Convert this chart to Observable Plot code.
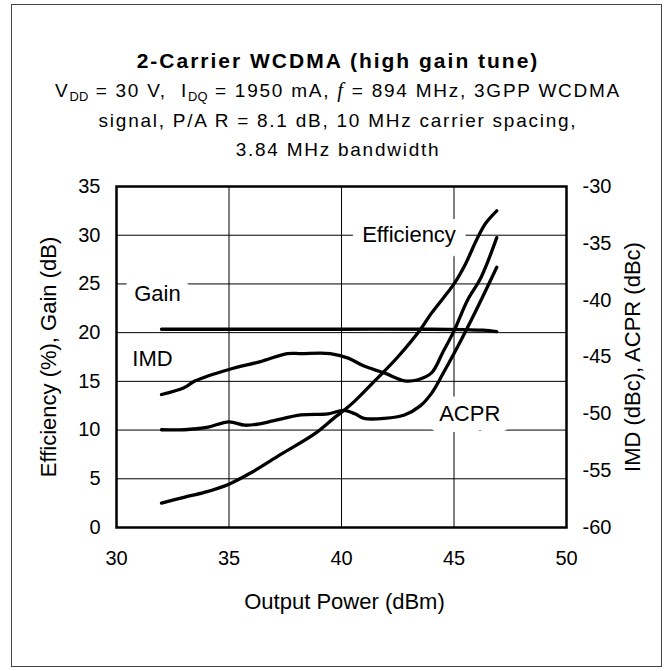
<!DOCTYPE html>
<html><head><meta charset="utf-8">
<script src="https://cdn.jsdelivr.net/npm/d3@7"></script>
<script src="https://cdn.jsdelivr.net/npm/@observablehq/plot@0.6"></script>
<style>
body{margin:0;background:#fff;font-family:"Liberation Sans",Arial,sans-serif;}
#page{position:relative;width:665px;height:671px;overflow:hidden;background:#fff;}
#border{position:absolute;left:10.5px;top:4px;width:649px;height:661px;border:1.4px solid #444;}
.t{position:absolute;left:0;width:676px;text-align:center;color:#000;white-space:nowrap;}
#title{top:47px;font-size:21px;line-height:28px;font-weight:bold;letter-spacing:2px;}
.sub{font-size:19px;line-height:29.5px;letter-spacing:1.75px;}
sub{font-size:0.68em;vertical-align:-0.3em;line-height:0;letter-spacing:0.3px;}
i.f{font-family:"Liberation Serif","DejaVu Serif",serif;font-size:1.1em;}
#chart{position:absolute;left:0;top:170px;}
</style></head>
<body><div id="page">
<div id="border"></div>
<div class="t" id="title">2-Carrier WCDMA (high gain tune)</div>
<div class="t sub" style="top:76px">V<sub>DD</sub> = 30 V,&nbsp; I<sub>DQ</sub> = 1950 mA, <i class="f">f</i> = 894 MHz, 3GPP WCDMA</div>
<div class="t sub" style="top:105.5px">signal, P/A R = 8.1 dB, 10 MHz carrier spacing,</div>
<div class="t sub" style="top:135px">3.84 MHz bandwidth</div>
<div id="chart"></div>
</div>
<script>
// ---- data ----
const effX  = [32, 33, 33.9, 35, 36, 37.3, 38.8, 39.7, 40.1, 40.6, 41.5, 42.5, 43.5, 44, 45, 45.5, 46, 46.4, 46.9];
const effY  = [2.5, 3.1, 3.6, 4.45, 5.65, 7.5, 9.6, 11.3, 12.0, 13.0, 15.1, 17.5, 20.3, 22.0, 25.0, 27.0, 29.5, 31.2, 32.5];

const gainX = [32, 36, 40, 44, 45.5, 46.3, 46.9];
const gainY = [20.35, 20.35, 20.35, 20.35, 20.3, 20.25, 20.1];

const imdX  = [32, 33, 33.5, 35, 36.4, 37.6, 38.2, 39.5, 40.3, 41, 41.9, 42.8, 43.4, 44, 44.5, 45, 45.6, 46.2, 46.9];
const imdY  = [-48.3, -47.7, -47.1, -46.1, -45.4, -44.7, -44.7, -44.7, -45.1, -45.8, -46.4, -47.1, -47.0, -46.4, -44.6, -42.7, -40.0, -38.0, -34.5];

const acprX = [32, 33, 34, 35, 35.7, 36.3, 37, 38.2, 39.4, 40.1, 40.6, 41, 41.9, 42.8, 43.5, 44, 44.5, 45, 45.5, 46.2, 46.9];
const acprY = [-51.4, -51.4, -51.2, -50.7, -51.0, -50.9, -50.6, -50.1, -50.0, -49.7, -50.0, -50.4, -50.4, -50.1, -49.3, -48.2, -46.5, -44.7, -42.8, -40.0, -37.1];

const xTicks = [30, 35, 40, 45, 50];
const yTicks = [0, 5, 10, 15, 20, 25, 30, 35];
const y2Ticks = [-60, -55, -50, -45, -40, -35, -30];
const xGrid = [35, 40, 45];
const yGrid = [5, 10, 15, 20, 25, 30];

const xTitle = "Output Power (dBm)";
const yTitle = "Efficiency (%), Gain (dB)";
const y2Title = "IMD (dBc), ACPR (dBc)";

// ---- right axis (dBc) mapped onto left axis domain ----
const y2Min = -60, y2Max = -30, yMax = 35;
const toLeft = v => (v - y2Min) * yMax / (y2Max - y2Min);
const fromLeft = v => Math.round(v * (y2Max - y2Min) / yMax + y2Min);

const series = (xs, ys) => xs.map((x, i) => ({x, y: ys[i]}));
const eff = series(effX, effY);
const gain = series(gainX, gainY);
const imd = series(imdX, imdY.map(toLeft));
const acpr = series(acprX, acprY.map(toLeft));

const lineOpts = {x: "x", y: "y", stroke: "#000", strokeWidth: 3.3, curve: "catmull-rom", strokeLinecap: "round", strokeLinejoin: "round"};
const labelOpts = {fontSize: 22, fill: "#000", stroke: "#fff", strokeWidth: 22, strokeLinejoin: "round", paintOrder: "stroke"};
const gridOpts = {stroke: "#000", strokeOpacity: 1, strokeWidth: 1};
const titleOpts = {fontSize: 22, fill: "#000", textAnchor: "middle", lineAnchor: "middle"};

const chart = Plot.plot({
  width: 665, height: 500,
  marginLeft: 116, marginRight: 99, marginTop: 16, marginBottom: 143,
  x: {domain: [30, 50]},
  y: {domain: [0, 35]},
  style: {fontFamily: '"Liberation Sans", Arial, sans-serif', fontSize: "20px", color: "#000", background: "transparent", overflow: "visible"},
  marks: [
    Plot.gridX(xGrid, gridOpts),
    Plot.gridY(yGrid, gridOpts),
    Plot.text(["Gain"], {x: [31.82], y: [24.0], ...labelOpts}),
    Plot.text(["IMD"], {x: [31.6], y: [17.25], ...labelOpts}),
    Plot.text(["Efficiency"], {x: [43.0], y: [30.07], ...labelOpts}),
    Plot.text(["ACPR"], {x: [45.7], y: [11.67], ...labelOpts}),
    Plot.line(gain, lineOpts),
    Plot.line(imd, lineOpts),
    Plot.line(acpr, lineOpts),
    Plot.line(eff, lineOpts),
    Plot.frame({stroke: "#000", strokeWidth: 2.5}),
    Plot.axisX(xTicks, {tickSize: 0, tickPadding: 23, fontSize: 20, label: null}),
    Plot.axisY(yTicks, {anchor: "left", tickSize: 0, tickPadding: 16, fontSize: 20, label: null}),
    Plot.axisY(y2Ticks.map(toLeft), {anchor: "right", tickSize: 0, tickPadding: 16, fontSize: 20, label: null, tickFormat: d => String(fromLeft(d))}),
    Plot.text([xTitle], {frameAnchor: "bottom", dx: 3, dy: 74, ...titleOpts}),
    Plot.text([yTitle], {frameAnchor: "left", dx: -68, rotate: -90, ...titleOpts}),
    Plot.text([y2Title], {frameAnchor: "right", dx: 66.5, rotate: -90, ...titleOpts})
  ]
});
document.getElementById("chart").appendChild(chart);
</script>
</body></html>
